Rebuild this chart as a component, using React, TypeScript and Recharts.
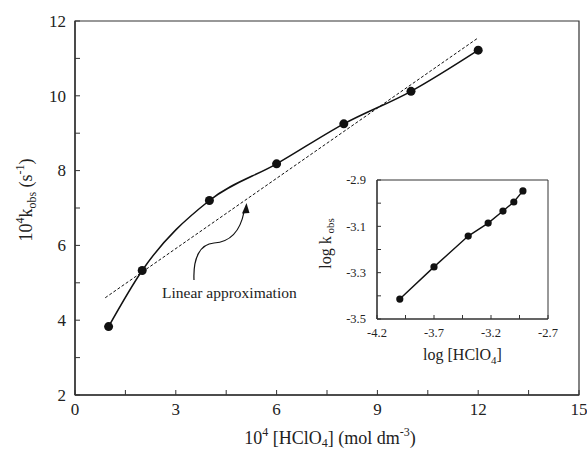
import React from 'react';
import {
    ComposedChart,
    Line,
    XAxis,
    YAxis,
    ReferenceArea,
    Label,
} from 'recharts';

// main plot: 10^4 [HClO4] vs 10^4 k_obs
const acid = [1, 2, 4, 6, 8, 10, 12];
const kObs = [3.83, 5.33, 7.2, 8.18, 9.25, 10.12, 11.22];
// dashed linear approximation (end points)
const fitAcid = [0.9, 12];
const fitK = [4.6, 11.55];

const mainXTicks = [0, 1.5, 3, 4.5, 6, 7.5, 9, 10.5, 12, 13.5, 15];
const mainXLabels = [0, 3, 6, 9, 12, 15];
const mainYTicks = [2, 3, 4, 5, 6, 7, 8, 9, 10, 11, 12];
const mainYLabels = [2, 4, 6, 8, 10, 12];

// inset: log-log
const logAcid = [-4.0, -3.7, -3.4, -3.225, -3.095, -3.0, -2.92];
const logK = [-3.414, -3.275, -3.142, -3.086, -3.034, -2.995, -2.947];

const insetXTicks = [-4.2, -3.95, -3.7, -3.45, -3.2, -2.95, -2.7];
const insetXLabels = [-4.2, -3.7, -3.2, -2.7];
const insetYTicks = [-3.5, -3.4, -3.3, -3.2, -3.1, -3.0, -2.9];
const insetYLabels = [-3.5, -3.3, -3.1, -2.9];

const mainData = acid.map((x, i) => ({ x, y: kObs[i] }));
const fitData = fitAcid.map((x, i) => ({ x, y: fitK[i] }));
const insetData = logAcid.map((x, i) => ({ x, y: logK[i] }));

const FONT = '"Liberation Serif", "Times New Roman", serif';
const INK = '#222';
const AXIS = '#333';

const isMajor = (v: number, list: number[]) => list.some(l => Math.abs(l - v) < 1e-6);

const fmt = (v: number) => (Number.isInteger(v) ? String(v) : v.toFixed(1));

const makeXTick = (labels: number[], size: number, gap: number, len: number) => (props: any) => {
    const { x, y, payload } = props;
    return (
        <g>
            <line x1={x} y1={y} x2={x} y2={y - len} stroke={AXIS} strokeWidth={1} />
            {isMajor(payload.value, labels) && (
                <text x={x} y={y + gap} textAnchor="middle" fontFamily={FONT} fontSize={size} fill={INK}>
                    {fmt(payload.value)}
                </text>
            )}
        </g>
    );
};

const makeYTick = (labels: number[], size: number, gap: number, len: number) => (props: any) => {
    const { x, y, payload } = props;
    return (
        <g>
            <line x1={x} y1={y} x2={x + len} y2={y} stroke={AXIS} strokeWidth={1} />
            {isMajor(payload.value, labels) && (
                <text x={x - gap} y={y + size * 0.34} textAnchor="end" fontFamily={FONT} fontSize={size} fill={INK}>
                    {fmt(payload.value)}
                </text>
            )}
        </g>
    );
};

const MainYTitle = ({ viewBox }: any) => {
    const cx = 32;
    const cy = viewBox.y + viewBox.height / 2 - 8;
    return (
        <text x={cx} y={cy} transform={`rotate(-90, ${cx}, ${cy})`} textAnchor="middle" fontFamily={FONT} fontSize={18} fill={INK}>
            <tspan>10</tspan>
            <tspan fontSize={12} dy={-8}>4</tspan>
            <tspan dy={8}>k</tspan>
            <tspan fontSize={12} dy={4}>obs</tspan>
            <tspan dy={-4}> (s</tspan>
            <tspan fontSize={12} dy={-8}>-1</tspan>
            <tspan dy={8}>)</tspan>
        </text>
    );
};

const MainXTitle = ({ viewBox }: any) => {
    const cx = viewBox.x + viewBox.width / 2 + 3;
    const cy = 444;
    return (
        <text x={cx} y={cy} textAnchor="middle" fontFamily={FONT} fontSize={18} fill={INK}>
            <tspan>10</tspan>
            <tspan fontSize={12} dy={-8}>4</tspan>
            <tspan dy={8}> [HClO</tspan>
            <tspan fontSize={12} dy={3}>4</tspan>
            <tspan dy={-3}>] (mol dm</tspan>
            <tspan fontSize={12} dy={-8}>-3</tspan>
            <tspan dy={8}>)</tspan>
        </text>
    );
};

const InsetYTitle = ({ viewBox }: any) => {
    const cx = 31;
    const cy = viewBox.y + viewBox.height / 2 - 6;
    return (
        <text x={cx} y={cy} transform={`rotate(-90, ${cx}, ${cy})`} textAnchor="middle" fontFamily={FONT} fontSize={16} fill={INK}>
            <tspan>log k</tspan>
            <tspan fontSize={11} dy={3}> obs</tspan>
        </text>
    );
};

const InsetXTitle = ({ viewBox }: any) => {
    const cx = viewBox.x + viewBox.width / 2;
    const cy = 200;
    return (
        <text x={cx} y={cy} textAnchor="middle" fontFamily={FONT} fontSize={16} fill={INK}>
            <tspan>log [HClO</tspan>
            <tspan fontSize={11} dy={4}>4</tspan>
            <tspan dy={-4}>]</tspan>
        </text>
    );
};

function Inset() {
    return (
        <ComposedChart width={260} height={215} margin={{ top: 20, right: 12, bottom: 26, left: 0 }}>
            <XAxis
                type="number"
                dataKey="x"
                domain={[-4.2, -2.7]}
                ticks={insetXTicks}
                interval={0}
                tickSize={0}
                tickMargin={0}
                height={30}
                axisLine={{ stroke: AXIS, strokeWidth: 1.2 }}
                tick={makeXTick(insetXLabels, 12.5, 18, 4)}
            >
                <Label content={<InsetXTitle />} />
            </XAxis>
            <YAxis
                type="number"
                dataKey="y"
                domain={[-3.5, -2.9]}
                ticks={insetYTicks}
                interval={0}
                tickSize={0}
                tickMargin={0}
                width={77}
                axisLine={{ stroke: AXIS, strokeWidth: 1.2 }}
                tick={makeYTick(insetYLabels, 12.5, 11, 4)}
            >
                <Label content={<InsetYTitle />} />
            </YAxis>
            <ReferenceArea x1={-4.2} x2={-2.7} y1={-3.5} y2={-2.9} fill="none" stroke={AXIS} strokeWidth={1} />
            <Line
                data={insetData}
                dataKey="y"
                type="linear"
                stroke="#111"
                strokeWidth={1.4}
                dot={{ r: 3.6, fill: '#111', stroke: '#111', strokeWidth: 0 }}
                isAnimationActive={false}
            />
        </ComposedChart>
    );
}

export default function App() {
    return (
        <div style={{ position: 'absolute', left: 0, top: 0, width: 587, height: 452, background: '#fff' }}>
            <ComposedChart width={587} height={452} margin={{ top: 21, right: 8, bottom: 27, left: 0 }}>
                <XAxis
                    type="number"
                    dataKey="x"
                    domain={[0, 15]}
                    ticks={mainXTicks}
                    interval={0}
                    tickSize={0}
                    tickMargin={0}
                    height={30}
                    axisLine={{ stroke: AXIS, strokeWidth: 1.4 }}
                    tick={makeXTick(mainXLabels, 17, 20, 5)}
                >
                    <Label content={<MainXTitle />} />
                </XAxis>
                <YAxis
                    type="number"
                    dataKey="y"
                    domain={[2, 12]}
                    ticks={mainYTicks}
                    interval={0}
                    tickSize={0}
                    tickMargin={0}
                    width={75}
                    axisLine={{ stroke: AXIS, strokeWidth: 1.4 }}
                    tick={makeYTick(mainYLabels, 17, 9, 5)}
                >
                    <Label content={<MainYTitle />} />
                </YAxis>
                <ReferenceArea x1={0} x2={15} y1={2} y2={12} fill="none" stroke={AXIS} strokeWidth={1.2} />
                <Line
                    data={fitData}
                    dataKey="y"
                    type="linear"
                    stroke="#111"
                    strokeWidth={1}
                    strokeDasharray="3 2"
                    dot={false}
                    isAnimationActive={false}
                />
                <Line
                    data={mainData}
                    dataKey="y"
                    type="monotone"
                    stroke="#111"
                    strokeWidth={1.5}
                    dot={{ r: 4.5, fill: '#111', stroke: '#111', strokeWidth: 0 }}
                    isAnimationActive={false}
                />
            </ComposedChart>
            <svg width={587} height={452} style={{ position: 'absolute', left: 0, top: 0, pointerEvents: 'none' }}>
                <path d="M194,280 C193,258 200,244 214,243 C230,242 240,232 244,212" fill="none" stroke="#111" strokeWidth={1.2} />
                <path d="M246.5,203 L242,213.5 L249.5,213 Z" fill="#111" />
                <text x={162} y={298} fontFamily={FONT} fontSize={15.5} fill={INK}>Linear approximation</text>
            </svg>
            <div style={{ position: 'absolute', left: 300, top: 160 }}>
                <Inset />
            </div>
        </div>
    );
}
